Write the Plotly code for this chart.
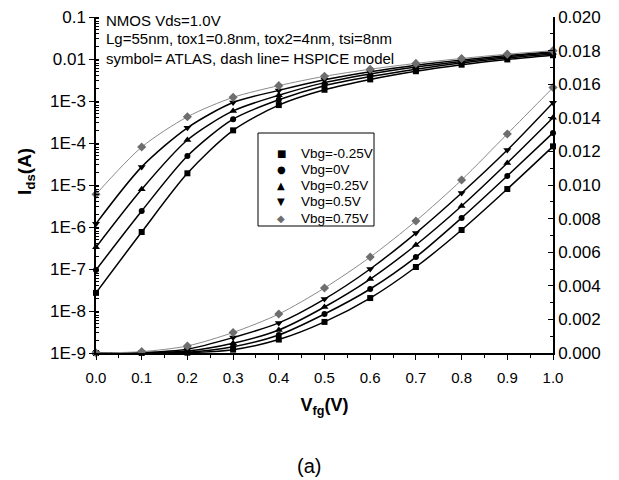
import plotly.graph_objects as go

vfg = [0.0, 0.1, 0.2, 0.3, 0.4, 0.5, 0.6, 0.7, 0.8, 0.9, 1.0]

series_names = ["Vbg=-0.25V", "Vbg=0V", "Vbg=0.25V", "Vbg=0.5V", "Vbg=0.75V"]

ids_m025 = [2.7e-8, 7.6e-7, 1.9e-5, 2.0e-4, 8.0e-4, 1.85e-3, 3.27e-3, 5.12e-3, 7.32e-3, 9.76e-3, 1.23e-2]
ids_0 = [9.5e-8, 2.4e-6, 4.9e-5, 3.7e-4, 1.07e-3, 2.32e-3, 3.81e-3, 5.71e-3, 8.04e-3, 1.054e-2, 1.31e-2]
ids_025 = [3.3e-7, 7.9e-6, 1.18e-4, 5.8e-4, 1.37e-3, 2.74e-3, 4.40e-3, 6.43e-3, 8.75e-3, 1.131e-2, 1.40e-2]
ids_05 = [1.2e-6, 2.7e-5, 2.3e-4, 9.2e-4, 1.79e-3, 3.21e-3, 5.00e-3, 7.14e-3, 9.52e-3, 1.208e-2, 1.49e-2]
ids_075 = [6.0e-6, 8.0e-5, 4.2e-4, 1.22e-3, 2.32e-3, 3.87e-3, 5.71e-3, 7.86e-3, 1.03e-2, 1.304e-2, 1.58e-2]

all_ids = [ids_m025, ids_0, ids_025, ids_05, ids_075]

log_tickvals = [1e-9, 1e-8, 1e-7, 1e-6, 1e-5, 1e-4, 1e-3, 1e-2, 1e-1]
log_ticktext = ["1E-9", "1E-8", "1E-7", "1E-6", "1E-5", "1E-4", "1E-3", "0.01", "0.1"]
lin_tickvals = [0.000, 0.002, 0.004, 0.006, 0.008, 0.010, 0.012, 0.014, 0.016, 0.018, 0.020]

symbols = ["square", "circle", "triangle-up", "triangle-down", "diamond"]
legend_glyphs = ["\u25A0", "\u25CF", "\u25B2", "\u25BC", "\u25C6"]
mcolors = ["black", "black", "black", "black", "#6e6e6e"]
lcolors = ["black", "black", "black", "black", "#8a8a8a"]
lwidths = [1.5, 1.5, 1.5, 1.5, 1.0]
msizes = [6, 6, 7, 7, 7]

FONT = "Liberation Sans, Arial, sans-serif"

# The page body adds an 8px offset; the figure is sized so that the
# plot area lands at window pixels x 96..553, y 17..353.
OFF = 8
W, H = 619 - OFF, 480 - OFF
L, R, T, B = 96 - OFF, 66, 17 - OFF, 127
PW, PH = W - L - R, H - T - B


def px(xw):
    return (xw - OFF - L) / PW


def py(yw):
    return (H - B - (yw - OFF)) / PH


fig = go.Figure()

for i, ids in enumerate(all_ids):
    for axis in ["y", "y2"]:
        # HSPICE model lines
        fig.add_trace(go.Scatter(
            x=vfg, y=ids, yaxis=axis, mode="lines",
            line=dict(color=lcolors[i], width=lwidths[i], shape="spline", smoothing=0.8),
            showlegend=False, hoverinfo="skip"))
        # ATLAS symbols
        fig.add_trace(go.Scatter(
            x=vfg, y=ids, yaxis=axis, mode="markers",
            marker=dict(symbol=symbols[i], size=msizes[i], color=mcolors[i],
                        line=dict(width=0)),
            name=series_names[i], showlegend=False,
            cliponaxis=False))

fig.update_layout(
    width=W, height=H,
    margin=dict(l=L, r=R, t=T, b=B, autoexpand=False),
    paper_bgcolor="white", plot_bgcolor="white",
    font=dict(family=FONT, size=15, color="black"),
    showlegend=False,
    xaxis=dict(
        range=[0, 1.0], tickvals=vfg, tickformat=".1f", automargin=False,
        tickfont=dict(size=15), ticklabelstandoff=5, ticklabeloverflow="allow",
        showline=True, linecolor="black", linewidth=1.5,
        ticks="outside", ticklen=5, tickwidth=1.2, tickcolor="black",
        minor=dict(ticks="outside", ticklen=3, dtick=0.05, tickcolor="black"),
        showgrid=False, zeroline=False,
        title=dict(text="<b>V<sub>fg</sub>(V)</b>", font=dict(size=18), standoff=14),
    ),
    yaxis=dict(
        type="log", range=[-9, -1], automargin=False,
        tickvals=log_tickvals, ticktext=log_ticktext, ticklabeloverflow="allow",
        tickfont=dict(size=17),
        showline=True, linecolor="black", linewidth=1.5,
        ticks="outside", ticklen=5, tickwidth=1.2, tickcolor="black",
        minor=dict(tickmode="linear", dtick="D1", ticks="inside", ticklen=3,
                   tickcolor="black", showgrid=False),
        showgrid=False, zeroline=False,
    ),
    yaxis2=dict(
        overlaying="y", side="right", range=[0, 0.020], automargin=False,
        tickvals=lin_tickvals, tickformat=".3f", ticklabeloverflow="allow",
        tickfont=dict(size=17),
        showline=True, linecolor="black", linewidth=1.5,
        ticks="inside", ticklen=5, tickwidth=1.2, tickcolor="black",
        minor=dict(ticks="inside", ticklen=3, dtick=0.001, tickcolor="black"),
        showgrid=False, zeroline=False,
    ),
)

# y-axis title
fig.add_annotation(text="<b>I<sub>ds</sub>(A)</b>", xref="paper", yref="paper",
                   x=px(26), y=py(172), textangle=-90, showarrow=False,
                   xanchor="center", yanchor="middle", font=dict(size=19, family=FONT))

# header notes
notes = ["NMOS Vds=1.0V",
         "Lg=55nm, tox1=0.8nm, tox2=4nm, tsi=8nm",
         "symbol= ATLAS, dash line= HSPICE model"]
note_y = [21, 39, 58]
for t, yy in zip(notes, note_y):
    fig.add_annotation(text=t, xref="paper", yref="paper", x=px(104), y=py(yy),
                       xanchor="left", yanchor="middle", showarrow=False,
                       font=dict(size=15, family=FONT))

# legend box (drawn by hand to match row spacing)
fig.add_shape(type="rect", xref="paper", yref="paper",
              x0=px(258), x1=px(374), y0=py(226), y1=py(133),
              line=dict(color="black", width=1), fillcolor="white", layer="above")
for i, name in enumerate(series_names):
    ry = 153 + 16.3 * i
    fig.add_annotation(text=legend_glyphs[i], xref="paper", yref="paper",
                       x=px(281), y=py(ry), xanchor="center", yanchor="middle",
                       showarrow=False,
                       font=dict(size=10, family="DejaVu Sans", color=mcolors[i]))
    fig.add_annotation(text=name, xref="paper", yref="paper",
                       x=px(299), y=py(ry), xanchor="left", yanchor="middle",
                       showarrow=False, font=dict(size=13.5, family=FONT))

fig.add_annotation(text="(a)", xref="paper", yref="paper", x=px(309), y=py(466),
                   xanchor="center", yanchor="middle", showarrow=False,
                   font=dict(size=20, family=FONT))

fig.write_html("out.html")
